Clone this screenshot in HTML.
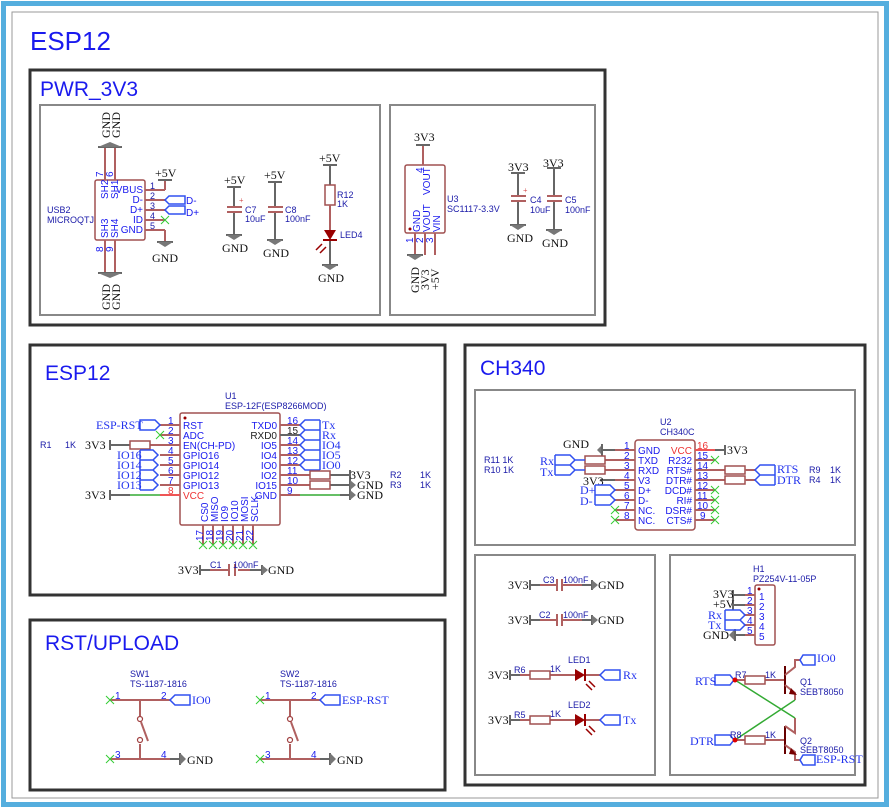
<!DOCTYPE html>
<html><head><meta charset="utf-8"><style>
html,body{margin:0;padding:0;background:#fff}
svg{display:block}
.s{font-family:"Liberation Sans",sans-serif;font-size:9px;fill:#1a1aa8}
.p{font-family:"Liberation Sans",sans-serif;font-size:10px;fill:#1a1aee}
.n{font-family:"Liberation Serif",serif;font-size:12px;fill:#111}
.nb{font-family:"Liberation Serif",serif;font-size:12px;fill:#2233ee}
.t{font-family:"Liberation Sans",sans-serif;fill:#1a1aee}
.w{stroke:#b06060;stroke-width:2;fill:none}
.b{stroke:#a05050;stroke-width:1.5;fill:none}
.g{stroke:#666;stroke-width:2;fill:none}
.gr{stroke:#3a3;stroke-width:1.5;fill:none}
.pt{stroke:#3050f0;stroke-width:1.5;fill:none}
.x{stroke:#3c3;stroke-width:1}
</style></head><body>
<svg width="890" height="810" viewBox="0 0 890 810" xmlns="http://www.w3.org/2000/svg">
<rect x="3.5" y="3.5" width="883" height="801" fill="#fff" stroke="#55aede" stroke-width="5"/>
<rect x="12" y="12" width="866" height="786" fill="none" stroke="#999" stroke-width="1"/>
<text x="30" y="50" class="t" font-size="26">ESP12</text>

<g fill="none" stroke="#333" stroke-width="3">
<rect x="30" y="70" width="575" height="255"/>
<rect x="30" y="345" width="415" height="250"/>
<rect x="30" y="620" width="415" height="170"/>
<rect x="465" y="345" width="400" height="440"/>
</g>
<g fill="none" stroke="#888" stroke-width="2">
<rect x="40" y="105" width="340" height="210"/>
<rect x="390" y="105" width="205" height="210"/>
<rect x="475" y="390" width="380" height="155"/>
<rect x="475" y="555" width="180" height="220"/>
<rect x="670" y="555" width="185" height="220"/>
</g>
<text x="40" y="96" class="t" font-size="21">PWR_3V3</text>
<text x="45" y="380" class="t" font-size="21">ESP12</text>
<text x="480" y="375" class="t" font-size="21">CH340</text>
<text x="45" y="650" class="t" font-size="21">RST/UPLOAD</text>

<!-- USB2 -->
<rect x="95" y="180" width="50" height="60" class="b" rx="2"/>
<path class="w" d="M145 190H165M145 200H165M145 210H165M145 220H165M145 230H165M165 190V180M165 230V242"/>
<path class="w" d="M105 148V180M115 148V180M105 240V272M115 240V272"/>
<path class="g" d="M158 180H172M157 242H173"/>
<path d="M98 147H122M98 273H122" stroke="#666" stroke-width="2"/>
<path d="M157 242L165 247L173 242Z M98 147L110 142L122 147Z M98 273L110 278L122 273Z" fill="#777"/>
<text x="155" y="177" class="n">+5V</text>
<text x="152" y="262" class="n">GND</text>
<g class="s"><text x="150" y="189">1</text><text x="150" y="199">2</text><text x="150" y="209">3</text><text x="150" y="219">4</text><text x="150" y="229">5</text></g>
<g class="p" text-anchor="end"><text x="143" y="193">VBUS</text><text x="143" y="203">D-</text><text x="143" y="213">D+</text><text x="143" y="223">ID</text><text x="143" y="233">GND</text></g>
<path class="pt" d="M165 200L169 196H185V204H169ZM165 210L169 206H185V214H169Z"/>
<text x="186" y="204" class="p">D-</text><text x="186" y="216" class="p">D+</text>
<path class="x" d="M161 216L169 224M169 216L161 224"/>
<text x="47" y="213" class="s">USB2</text><text x="47" y="223" class="s">MICROQTJ</text>
<g class="n" font-size="11">
<text transform="translate(110,138) rotate(-90)">GND</text><text transform="translate(120,138) rotate(-90)">GND</text>
<text transform="translate(110,310) rotate(-90)">GND</text><text transform="translate(120,310) rotate(-90)">GND</text>
</g>
<g class="p" font-size="8.5">
<text transform="translate(103,177) rotate(-90)">7</text><text transform="translate(113,177) rotate(-90)">6</text>
<text transform="translate(103,252) rotate(-90)">8</text><text transform="translate(113,252) rotate(-90)">9</text>
<text transform="translate(108,199) rotate(-90)">SH2</text><text transform="translate(118,199) rotate(-90)">SH1</text>
<text transform="translate(108,238) rotate(-90)">SH3</text><text transform="translate(118,238) rotate(-90)">SH4</text>
</g>

<!-- C7 C8 -->
<path class="g" d="M234 187V207M234 212V235M227 187H241M226 235H242M275 182V207M275 212V240M268 182H282M267 240H283"/>
<path d="M227 207H242M227 212H242M268 207H283M268 212H283" stroke="#b06060" stroke-width="2"/>
<path d="M226 235L234 240L242 235ZM267 240L275 245L283 240Z" fill="#777"/>
<text x="239" y="203" fill="#c33" font-size="8">+</text>
<text x="224" y="184" class="n">+5V</text><text x="222" y="252" class="n">GND</text>
<text x="264" y="179" class="n">+5V</text><text x="263" y="257" class="n">GND</text>
<text x="245" y="213" class="s">C7</text><text x="245" y="222" class="s">10uF</text>
<text x="285" y="213" class="s">C8</text><text x="285" y="222" class="s">100nF</text>
<!-- R12 LED4 -->
<path class="g" d="M330 165V185M323 165H337M330 240V265M322 265H338"/>
<path d="M322 265L330 270L338 265Z" fill="#777"/>
<rect x="325" y="185" width="10" height="20" class="b"/>
<path class="w" d="M330 205V230"/>
<path d="M324 230H336L330 240Z" fill="#900"/><path d="M323 240H337" stroke="#900" stroke-width="2"/>
<path d="M316 250L322 244M320 253L326 247" stroke="#900" stroke-width="1.5"/>
<text x="319" y="162" class="n">+5V</text><text x="318" y="282" class="n">GND</text>
<text x="337" y="198" class="s">R12</text><text x="337" y="207" class="s">1K</text>
<text x="340" y="238" class="s">LED4</text>

<!-- U3 -->
<rect x="405" y="165" width="40" height="68" class="b" rx="2"/>
<circle cx="410" cy="229" r="1.5" fill="#900"/>
<path class="w" d="M423 145V165M415 233V255M425 233V255M435 233V255"/>
<path class="g" d="M416 145H430M407 255H423"/>
<path d="M407 255L415 260L423 255Z" fill="#777"/>
<text x="414" y="141" class="n">3V3</text>
<text x="447" y="202" class="s">U3</text><text x="447" y="212" class="s">SC1117-3.3V</text>
<g class="p" font-size="9">
<text transform="translate(423,173) rotate(-90)">4</text>
<text transform="translate(430,195) rotate(-90)">VOUT</text>
<text transform="translate(420,232) rotate(-90)">GND</text>
<text transform="translate(430,232) rotate(-90)">VOUT</text>
<text transform="translate(440,232) rotate(-90)">VIN</text>
<text transform="translate(413,243) rotate(-90)">1</text><text transform="translate(423,243) rotate(-90)">2</text><text transform="translate(433,243) rotate(-90)">3</text>
</g>
<g class="n" font-size="11">
<text transform="translate(419,293) rotate(-90)">GND</text>
<text transform="translate(429,290) rotate(-90)">3V3</text>
<text transform="translate(439,290) rotate(-90)">+5V</text>
</g>
<!-- C4 C5 -->
<path class="g" d="M518 173V196M518 201V225M511 173H525M510 225H526M554 168V196M554 201V230M547 168H561M546 230H562"/>
<path d="M511 196H526M511 201H526M547 196H562M547 201H562" stroke="#b06060" stroke-width="2"/>
<path d="M510 225L518 230L526 225ZM546 230L554 235L562 230Z" fill="#777"/>
<text x="523" y="193" fill="#c33" font-size="8">+</text>
<text x="508" y="171" class="n">3V3</text><text x="507" y="242" class="n">GND</text>
<text x="543" y="167" class="n">3V3</text><text x="542" y="247" class="n">GND</text>
<text x="530" y="203" class="s">C4</text><text x="530" y="213" class="s">10uF</text>
<text x="565" y="203" class="s">C5</text><text x="565" y="213" class="s">100nF</text>

<!-- U1 -->
<rect x="180" y="413" width="100" height="112" class="b" rx="2"/>
<circle cx="185" cy="418" r="1.5" fill="#900"/>
<text x="225" y="399" class="s">U1</text><text x="225" y="409" class="s">ESP-12F(ESP8266MOD)</text>
<path class="w" d="M160 425H180M160 435H180M150 445H180M160 455H180M160 465H180M160 475H180M160 485H180"/>
<path d="M160 495H180" stroke="#e55" stroke-width="2"/>
<path d="M110 495H130" class="g"/><path d="M130 495H160" class="gr"/>
<g class="p" font-size="9"><text x="168" y="424">1</text><text x="168" y="434">2</text><text x="168" y="444">3</text><text x="168" y="454">4</text><text x="168" y="464">5</text><text x="168" y="474">6</text><text x="168" y="484">7</text><text x="168" y="494" fill="#e33">8</text></g>
<g class="p" font-size="9"><text x="183" y="429">RST</text><text x="183" y="439">ADC</text><text x="183" y="449">EN(CH-PD)</text><text x="183" y="459">GPIO16</text><text x="183" y="469">GPIO14</text><text x="183" y="479">GPIO12</text><text x="183" y="489">GPIO13</text><text x="183" y="499" fill="#e33">VCC</text></g>
<path class="pt" d="M160 425L155 420H140V430H155Z"/>
<text x="96" y="429" class="nb" font-size="11">ESP-RST</text>
<path class="x" d="M156 431L164 439M164 431L156 439"/>
<path class="g" d="M110 440V450M110 445H130"/>
<rect x="130" y="441" width="20" height="8" class="b"/>
<text x="85" y="449" class="n">3V3</text>
<text x="40" y="448" class="s">R1</text><text x="65" y="448" class="s">1K</text>
<path class="pt" d="M140 450V490M140 450H153L158 455L153 460H140M140 460H153L158 465L153 470H140M140 470H153L158 475L153 480H140M140 480H153L158 485L153 490H140"/>
<g class="nb" font-size="11"><text x="117" y="459">IO16</text><text x="117" y="469">IO14</text><text x="117" y="479">IO12</text><text x="117" y="489">IO13</text></g>
<path class="g" d="M110 490V500"/>
<text x="85" y="499" class="n">3V3</text>
<path class="w" d="M280 425H300M280 445H300M280 455H300M280 465H300M280 475H310M280 485H310M280 495H300"/>
<path class="g" d="M280 435H300"/>
<path class="gr" d="M300 495H340"/><path class="g" d="M340 495H350M330 475H350M330 485H350"/>
<g class="p" font-size="9"><text x="287" y="424">16</text><text x="287" y="434" fill="#222">15</text><text x="287" y="444">14</text><text x="287" y="454">13</text><text x="287" y="464">12</text><text x="287" y="474">11</text><text x="287" y="484">10</text><text x="287" y="494">9</text></g>
<g class="p" font-size="9" text-anchor="end"><text x="277" y="429">TXD0</text><text x="277" y="439" fill="#222">RXD0</text><text x="277" y="449">IO5</text><text x="277" y="459">IO4</text><text x="277" y="469">IO0</text><text x="277" y="479">IO2</text><text x="277" y="489">IO15</text><text x="277" y="499">GND</text></g>
<path class="pt" d="M320 420V470M320 420H305L300 425L305 430H320M320 430H305L300 435L305 440H320M320 440H305L300 445L305 450H320M320 450H305L300 455L305 460H320M320 460H305L300 465L305 470H320"/>
<g class="nb" font-size="11"><text x="322" y="429">Tx</text><text x="322" y="439">Rx</text><text x="322" y="449">IO4</text><text x="322" y="459">IO5</text><text x="322" y="469">IO0</text></g>
<rect x="310" y="471" width="20" height="8" class="b"/><rect x="310" y="481" width="20" height="8" class="b"/>
<path class="g" d="M350 470V480M350 480V490M350 490V500"/>
<path d="M350 480L356 485L350 490ZM350 490L356 495L350 500Z" fill="#777"/>
<text x="350" y="479" class="n">3V3</text><text x="357" y="489" class="n">GND</text><text x="357" y="499" class="n">GND</text>
<text x="390" y="478" class="s">R2</text><text x="420" y="478" class="s">1K</text>
<text x="390" y="488" class="s">R3</text><text x="420" y="488" class="s">1K</text>
<path class="w" d="M203 525V545M213 525V545M223 525V545M233 525V545M243 525V545M253 525V545"/>
<path class="x" d="M199 541L207 549M207 541L199 549M209 541L217 549M217 541L209 549M219 541L227 549M227 541L219 549M229 541L237 549M237 541L229 549M239 541L247 549M247 541L239 549M249 541L257 549M257 541L249 549"/>
<g class="p" font-size="9">
<text transform="translate(208,522) rotate(-90)">CS0</text><text transform="translate(218,522) rotate(-90)">MISO</text><text transform="translate(228,522) rotate(-90)">IO9</text><text transform="translate(238,522) rotate(-90)">IO10</text><text transform="translate(248,522) rotate(-90)">MOSI</text><text transform="translate(258,522) rotate(-90)">SCLK</text>
<text transform="translate(203,541) rotate(-90)">17</text><text transform="translate(213,541) rotate(-90)">18</text><text transform="translate(223,541) rotate(-90)">19</text><text transform="translate(233,541) rotate(-90)">20</text><text transform="translate(243,541) rotate(-90)">21</text><text transform="translate(253,541) rotate(-90)">22</text>
</g>
<path class="g" d="M200 565V575M200 570H210M250 570H262M262 565V575"/>
<path class="w" d="M210 570H228M238 570H250"/>
<path d="M229 564V576M235 564V576" stroke="#b06060" stroke-width="2"/>
<path d="M262 565L268 570L262 575Z" fill="#777"/>
<text x="178" y="574" class="n">3V3</text><text x="268" y="574" class="n">GND</text>
<text x="210" y="568" class="s">C1</text><text x="233" y="568" class="s">100nF</text>

<!-- SW -->
<g id="sw">
<path class="w" d="M110 700H170M110 759H170M140 700V716M140 744V759M141 722L148 741"/>
<circle cx="140" cy="719" r="2.5" fill="#fff" stroke="#a04040" stroke-width="1.2"/>
<circle cx="140" cy="740" r="2.5" fill="#fff" stroke="#a04040" stroke-width="1.2"/>
<path class="g" d="M170 759H180M180 753V765"/>
<path d="M180 753L186 759L180 765Z" fill="#777"/>
<path class="x" d="M106 696L114 704M114 696L106 704M106 755L114 763M114 755L106 763"/>
<g class="p" font-size="9"><text x="115" y="699">1</text><text x="161" y="699">2</text><text x="115" y="758">3</text><text x="161" y="758">4</text></g>
<path class="pt" d="M170 700L175 695H190V705H175Z"/>
<text x="187" y="764" class="n">GND</text>
</g>
<use href="#sw" x="150"/>
<text x="130" y="677" class="s">SW1</text><text x="130" y="687" class="s">TS-1187-1816</text>
<text x="280" y="677" class="s">SW2</text><text x="280" y="687" class="s">TS-1187-1816</text>
<text x="192" y="704" class="nb" font-size="11">IO0</text>
<text x="342" y="704" class="nb" font-size="11">ESP-RST</text>

<!-- U2 -->
<rect x="635" y="440" width="60" height="90" class="b" rx="3" stroke="#333"/>
<text x="660" y="425" class="s">U2</text><text x="660" y="435" class="s">CH340C</text>
<path class="w" d="M605 460H635M605 470H635M615 490H635M615 500H635M615 510H635M615 520H635M695 470H725M695 480H725M695 460H715M695 490H715M695 500H715M695 510H715M695 520H715"/>
<path class="g" d="M602 450H615M615 480H600"/><path class="w" d="M615 450H635M615 480H635"/>
<path d="M695 450H715" stroke="#e55" stroke-width="2"/><path class="g" d="M715 450H725M725 445V455"/>
<path d="M602 445V455L597 450Z" fill="#777"/><path d="M602 444V456" stroke="#666" stroke-width="2"/>
<g class="p" font-size="9"><text x="624" y="449">1</text><text x="624" y="459">2</text><text x="624" y="469">3</text><text x="624" y="479">4</text><text x="624" y="489">5</text><text x="624" y="499">6</text><text x="624" y="509">7</text><text x="624" y="519">8</text>
<text x="697" y="449" fill="#e33">16</text><text x="697" y="459">15</text><text x="697" y="469">14</text><text x="697" y="479">13</text><text x="697" y="489">12</text><text x="697" y="499">11</text><text x="697" y="509">10</text><text x="700" y="519">9</text></g>
<g class="p" font-size="9"><text x="638" y="454">GND</text><text x="638" y="464">TXD</text><text x="638" y="474">RXD</text><text x="638" y="484">V3</text><text x="638" y="494">D+</text><text x="638" y="504">D-</text><text x="638" y="514">NC.</text><text x="638" y="524">NC.</text></g>
<g class="p" font-size="9" text-anchor="end"><text x="692" y="454" fill="#e33">VCC</text><text x="692" y="464">R232</text><text x="692" y="474">RTS#</text><text x="692" y="484">DTR#</text><text x="692" y="494">DCD#</text><text x="692" y="504">RI#</text><text x="692" y="514">DSR#</text><text x="692" y="524">CTS#</text></g>
<path class="x" d="M711 456L719 464M719 456L711 464M711 486L719 494M719 486L711 494M711 496L719 504M719 496L711 504M711 506L719 514M719 506L711 514M711 516L719 524M719 516L711 524M611 506L619 514M619 506L611 514M611 516L619 524M619 516L611 524"/>
<text x="563" y="448" class="n">GND</text>
<text x="583" y="485" class="n">3V3</text>
<text x="727" y="454" class="n">3V3</text>
<rect x="585" y="456" width="20" height="8" class="b"/><rect x="585" y="466" width="20" height="8" class="b"/>
<path class="pt" d="M555 455V475M555 455H570L575 460L570 465H555M555 465H570L575 470L570 475H555M575 460H585M575 470H585"/>
<text x="540" y="465" class="nb" font-size="11">Rx</text><text x="540" y="476" class="nb" font-size="11">Tx</text>
<text x="484" y="463" class="s">R11 1K</text><text x="484" y="473" class="s">R10 1K</text>
<path class="pt" d="M595 485V505M595 485H610L615 490L610 495H595M595 495H610L615 500L610 505H595"/>
<text x="580" y="494" class="nb" font-size="11">D+</text><text x="580" y="505" class="nb" font-size="11">D-</text>
<rect x="725" y="466" width="20" height="8" class="b"/><rect x="725" y="476" width="20" height="8" class="b"/>
<path class="w" d="M745 470H755M745 480H755"/>
<path class="pt" d="M775 465V485M775 465H760L755 470L760 475H775M775 475H760L755 480L760 485H775"/>
<text x="777" y="473" class="nb" font-size="11">RTS</text><text x="777" y="484" class="nb" font-size="11">DTR</text>
<text x="809" y="473" class="s">R9</text><text x="830" y="473" class="s">1K</text>
<text x="809" y="483" class="s">R4</text><text x="830" y="483" class="s">1K</text>

<!-- C3 C2 -->
<g id="cap">
<path class="g" d="M530 580V590M530 585H540M582 585H592M592 580V590"/>
<path class="w" d="M540 585H557M562 585H582"/>
<path d="M557 579V591M562 579V591" stroke="#b06060" stroke-width="2"/>
<path d="M592 580L598 585L592 590Z" fill="#777"/>
<text x="508" y="589" class="n">3V3</text><text x="598" y="589" class="n">GND</text>
</g>
<use href="#cap" y="35"/>
<text x="543" y="583" class="s">C3</text><text x="563" y="583" class="s">100nF</text>
<text x="539" y="618" class="s">C2</text><text x="563" y="618" class="s">100nF</text>
<g id="led">
<path class="g" d="M510 670V680M510 675H520"/>
<path class="w" d="M520 675H530M550 675H575M585 675H600"/>
<rect x="530" y="671" width="20" height="8" class="b"/>
<path d="M575 669V681L585 675Z" fill="#900"/><path d="M585 669V681" stroke="#900" stroke-width="2"/>
<path d="M586 684L592 690M589 681L595 687" stroke="#900" stroke-width="1.5"/>
<path class="pt" d="M600 675L605 670H620V680H605Z"/>
<text x="488" y="679" class="n">3V3</text>
<text x="550" y="672" class="s">1K</text>
</g>
<use href="#led" y="45"/>
<text x="514" y="673" class="s">R6</text><text x="514" y="718" class="s">R5</text>
<text x="568" y="663" class="s">LED1</text><text x="568" y="708" class="s">LED2</text>
<text x="623" y="679" class="nb" font-size="11">Rx</text><text x="623" y="724" class="nb" font-size="11">Tx</text>

<!-- H1 -->
<rect x="755" y="585" width="20" height="60" class="b" rx="2"/>
<circle cx="759" cy="589" r="1.5" fill="#900"/>
<text x="753" y="572" class="s">H1</text><text x="753" y="582" class="s">PZ254V-11-05P</text>
<path class="g" d="M733 595H745M733 605H745M735 635H745M733 590V600M733 600V610"/>
<path class="w" d="M745 595H755M745 605H755M745 615H755M745 625H755M745 635H755"/>
<path d="M735 629V641L729 635Z" fill="#777"/><path d="M735 629V641" stroke="#666" stroke-width="2"/>
<g class="p" font-size="9"><text x="747" y="594">1</text><text x="747" y="604">2</text><text x="747" y="614">3</text><text x="747" y="624">4</text><text x="747" y="634">5</text>
<text x="759" y="600">1</text><text x="759" y="610">2</text><text x="759" y="620">3</text><text x="759" y="630">4</text><text x="759" y="640">5</text></g>
<path class="pt" d="M725 610V630M725 610H740L745 615L740 620H725M725 620H740L745 625L740 630H725"/>
<text x="713" y="598" class="n">3V3</text><text x="713" y="608" class="n">+5V</text>
<text x="708" y="619" class="nb" font-size="11">Rx</text><text x="708" y="629" class="nb" font-size="11">Tx</text>
<text x="703" y="639" class="n">GND</text>
<!-- Q1 Q2 -->
<path class="pt" d="M715 675H730L734 680L730 685H715ZM715 735H730L734 740L730 745H715Z"/>
<text x="695" y="685" class="nb" font-size="11">RTS</text><text x="690" y="745" class="nb" font-size="11">DTR</text>
<path class="w" d="M735 680H745M765 680H785M735 740H745M765 740H785"/>
<rect x="745" y="676" width="20" height="8" class="b"/><rect x="745" y="736" width="20" height="8" class="b"/>
<path d="M785 666V694M785 726V754" stroke="#600" stroke-width="2"/>
<path class="w" d="M785 675L795 667V660H800M785 685L795 693V700M795 718V733L785 726M785 745L795 752V760H800"/>
<path d="M791 688L797 695L789 694Z M791 748L797 755L789 754Z" fill="#700"/>
<path class="gr" d="M735 680L795 718M735 740L795 700"/>
<circle cx="735" cy="680" r="2.5" fill="#d00"/><circle cx="735" cy="740" r="2.5" fill="#d00"/>
<path class="pt" d="M800 660L803 655H815V665H803Z M800 760L803 755H815V765H803Z"/>
<text x="817" y="662" class="nb" font-size="11">IO0</text><text x="816" y="763" class="nb" font-size="10.5">ESP-RST</text>
<text x="735" y="678" class="s">R7</text><text x="765" y="678" class="s">1K</text>
<text x="730" y="738" class="s">R8</text><text x="765" y="738" class="s">1K</text>
<text x="800" y="685" class="s">Q1</text><text x="800" y="695" class="s">SEBT8050</text>
<text x="800" y="744" class="s">Q2</text><text x="800" y="753" class="s">SEBT8050</text>
</svg>
</body></html>
